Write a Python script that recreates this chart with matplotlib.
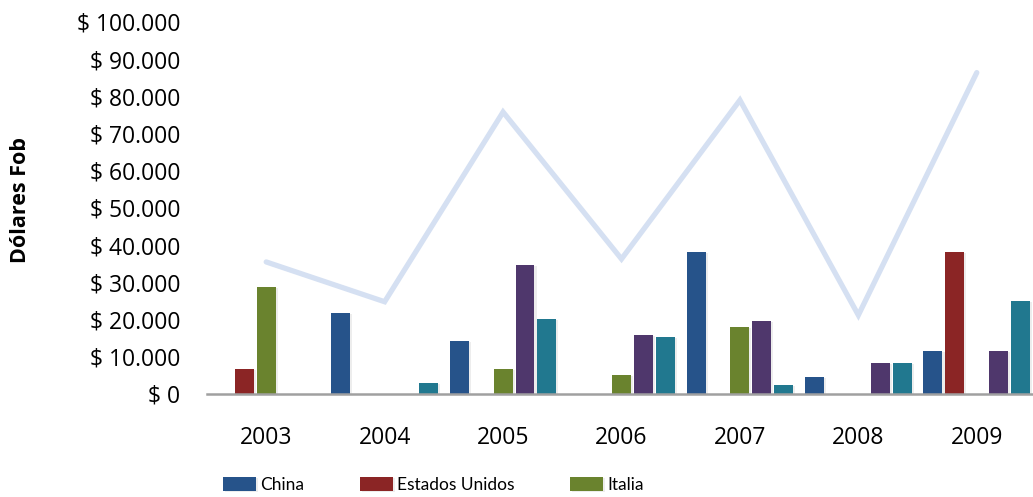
import matplotlib.pyplot as plt
import matplotlib.patheffects as pe
from matplotlib import font_manager
import numpy as np

years = ["2003", "2004", "2005", "2006", "2007", "2008", "2009"]

# Exports per destination, dollars FOB
china = [0, 21800, 14200, 0, 38200, 4600, 11600]
estados_unidos = [6700, 0, 0, 0, 0, 0, 38200]
italia = [28800, 0, 6700, 5100, 18000, 0, 0]
serie_4 = [0, 0, 34700, 15900, 19600, 8300, 11600]
serie_5 = [0, 3000, 20200, 15300, 2400, 8300, 25000]
total = [35500, 24800, 75800, 36300, 79000, 21200, 86400]

series_names = ["China", "Estados Unidos", "Italia", "", ""]
series_colors = ["#26538a", "#8b2525", "#6a832e", "#4f376c", "#21788f"]


def money(v, pos=None):
    return "$ " + f"{int(v):,}".replace(",", ".")


def main():
    plt.rcParams["font.family"] = ["Open Sans", "DejaVu Sans"]

    fig = plt.figure(figsize=(10.33, 4.97), dpi=100)
    ax = fig.add_axes([207 / 1033, 1 - 394 / 497, 829 / 1033, 372 / 497])

    x = np.arange(len(years))
    width = 0.16
    step = 0.185
    all_series = [china, estados_unidos, italia, serie_4, serie_5]

    handles = []
    for i, values in enumerate(all_series):
        bars = ax.bar(x + (i - 2) * step, values, width,
                      color=series_colors[i], zorder=2)
        for b in bars:
            b.set_path_effects([
                pe.SimplePatchShadow(offset=(1.5, -0.5), shadow_rgbFace="#000000", alpha=0.07),
                pe.Normal(),
            ])
        if series_names[i]:
            handles.append((bars, series_names[i]))

    ax.plot(x, total, color="#d5e0f2", linewidth=3.8, zorder=3,
            solid_capstyle="round", solid_joinstyle="miter")

    ax.set_xlim(-0.5, 6.5)
    ax.set_ylim(0, 100000)
    ax.set_yticks(range(0, 100001, 10000))
    ax.yaxis.set_major_formatter(plt.FuncFormatter(money))
    ax.set_xticks(x)
    ax.set_xticklabels(years)
    ax.tick_params(axis="y", length=0, pad=19, labelsize=16.5)
    ax.tick_params(axis="x", length=0, pad=23, labelsize=16.5)

    for side in ["left", "right", "top"]:
        ax.spines[side].set_visible(False)
    ax.spines["bottom"].set_color("#a0a0a0")
    ax.spines["bottom"].set_linewidth(1.8)

    fig.text(21 / 1033, 1 - 200 / 497, "Dólares Fob", rotation=90,
             ha="center", va="center", fontsize=15.5, fontweight="bold")

    leg_font = font_manager.FontProperties(family=["Lato", "Open Sans"], size=12.5)
    fig.legend([h for h, _ in handles], [n for _, n in handles],
               loc="center left", bbox_to_anchor=(223 / 1033, 1 - 485 / 497),
               ncol=3, frameon=False, prop=leg_font, handlelength=1.9,
               handleheight=0.85, handletextpad=0.25, columnspacing=3.2,
               borderpad=0, borderaxespad=0)

    fig.savefig("out.png", dpi=100)


if __name__ == "__main__":
    main()
